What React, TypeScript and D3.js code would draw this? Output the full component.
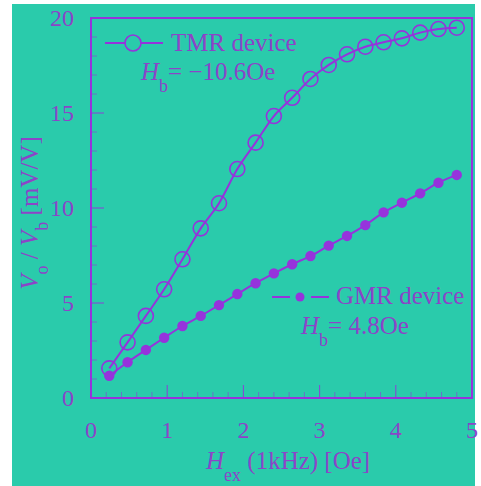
import * as d3 from "d3";
import { useEffect, useRef } from "react";

// field H_ex (Oe) at 1 kHz
const fieldValues = [
  0.24, 0.48, 0.72, 0.96, 1.2, 1.44, 1.68, 1.92, 2.16, 2.4,
  2.64, 2.88, 3.12, 3.36, 3.6, 3.84, 4.08, 4.32, 4.56, 4.8,
];
const tmrValues = [
  1.56, 2.93, 4.32, 5.72, 7.3, 8.93, 10.25, 12.05, 13.44, 14.84,
  15.8, 16.79, 17.53, 18.09, 18.49, 18.72, 18.93, 19.23, 19.42, 19.49,
];
const gmrValues = [
  1.17, 1.88, 2.53, 3.17, 3.79, 4.32, 4.89, 5.47, 6.04, 6.56,
  7.04, 7.47, 8.02, 8.53, 9.1, 9.77, 10.28, 10.77, 11.33, 11.74,
];
const xTicks = [0, 1, 2, 3, 4, 5];
const yTicks = [0, 5, 10, 15, 20];

const BG = "#2acbab";
const PURPLE = "#9633dc";
const TEXT = "#8c44c8";
const FONT = "'Liberation Serif', 'DejaVu Serif', serif";

const Chart = () => {
  const ref = useRef<SVGSVGElement>(null);

  useEffect(() => {
    const svg = d3.select(ref.current);
    svg.selectAll("*").remove();

    const margin = { top: 18, right: 9, bottom: 88, left: 91 };
    const W = 481;
    const H = 486;

    const x = d3.scaleLinear().domain([0, 5]).range([margin.left, W - margin.right]);
    const y = d3.scaleLinear().domain([0, 20]).range([H - margin.bottom, margin.top]);

    svg.append("rect").attr("width", W).attr("height", H).attr("fill", "#fff");
    svg.append("rect").attr("x", 12).attr("y", 4).attr("width", 463).attr("height", H - 4).attr("fill", BG);

    const g = svg.append("g").attr("font-family", FONT).attr("fill", TEXT);

    // minor + major ticks, drawn inward
    const isInt = (d: number) => Math.abs(d - Math.round(d)) < 1e-6;
    g.selectAll(".xminor")
      .data(d3.range(0, 5.001, 0.2))
      .join("line")
      .attr("x1", (d) => x(d))
      .attr("x2", (d) => x(d))
      .attr("y1", y(0))
      .attr("y2", (d) => y(0) - (isInt(d) ? 13 : 6))
      .attr("stroke", PURPLE)
      .attr("stroke-width", 1)
      .attr("opacity", (d) => (isInt(d) ? 0.9 : 0.55));

    g.selectAll(".yminor")
      .data(d3.range(0, 20.001, 1))
      .join("line")
      .attr("y1", (d) => y(d))
      .attr("y2", (d) => y(d))
      .attr("x1", x(0))
      .attr("x2", (d) => x(0) + (d % 5 === 0 ? 13 : 6))
      .attr("stroke", PURPLE)
      .attr("stroke-width", 1)
      .attr("opacity", (d) => (d % 5 === 0 ? 0.9 : 0.55));

    // frame
    g.append("rect")
      .attr("x", x(0))
      .attr("y", y(20))
      .attr("width", x(5) - x(0))
      .attr("height", y(0) - y(20))
      .attr("fill", "none")
      .attr("stroke", PURPLE)
      .attr("stroke-width", 2);

    // tick labels
    g.selectAll(".xlab")
      .data(xTicks)
      .join("text")
      .attr("x", (d) => x(d))
      .attr("y", 438)
      .attr("text-anchor", "middle")
      .attr("font-size", 24)
      .text((d) => d);

    g.selectAll(".ylab")
      .data(yTicks)
      .join("text")
      .attr("x", 74)
      .attr("y", (d) => y(d) + 8)
      .attr("text-anchor", "end")
      .attr("font-size", 24)
      .text((d) => d);

    // curves
    const tmr = fieldValues.map((f, i) => [f, tmrValues[i]] as [number, number]);
    const gmr = fieldValues.map((f, i) => [f, gmrValues[i]] as [number, number]);
    const line = d3
      .line<[number, number]>()
      .x((d) => x(d[0]))
      .y((d) => y(d[1]))
      .curve(d3.curveMonotoneX);

    g.append("path")
      .attr("d", line(tmr))
      .attr("fill", "none")
      .attr("stroke", PURPLE)
      .attr("stroke-width", 2);
    g.append("path")
      .attr("d", line(gmr))
      .attr("fill", "none")
      .attr("stroke", PURPLE)
      .attr("stroke-width", 2);

    g.selectAll(".tmr")
      .data(tmr)
      .join("circle")
      .attr("cx", (d) => x(d[0]))
      .attr("cy", (d) => y(d[1]))
      .attr("r", 7.5)
      .attr("fill", "none")
      .attr("stroke", PURPLE)
      .attr("stroke-width", 1.6);

    g.selectAll(".gmr")
      .data(gmr)
      .join("circle")
      .attr("cx", (d) => x(d[0]))
      .attr("cy", (d) => y(d[1]))
      .attr("r", 5.2)
      .attr("fill", PURPLE);

    // legend: TMR
    g.append("line")
      .attr("x1", 105).attr("x2", 163).attr("y1", 43).attr("y2", 43)
      .attr("stroke", PURPLE).attr("stroke-width", 2);
    g.append("circle")
      .attr("cx", 133).attr("cy", 43).attr("r", 8)
      .attr("fill", BG).attr("stroke", PURPLE).attr("stroke-width", 1.6);
    g.append("text").attr("x", 171).attr("y", 51).attr("font-size", 25).text("TMR device");
    const t1 = g.append("text").attr("x", 141).attr("y", 80).attr("font-size", 25);
    t1.append("tspan").attr("font-style", "italic").text("H");
    t1.append("tspan").attr("dy", 12).attr("font-size", 18).text("b");
    t1.append("tspan").attr("dy", -12).text("= \u221210.6Oe");

    // legend: GMR
    g.append("line")
      .attr("x1", 272).attr("x2", 290).attr("y1", 297).attr("y2", 297)
      .attr("stroke", PURPLE).attr("stroke-width", 2);
    g.append("line")
      .attr("x1", 311).attr("x2", 329).attr("y1", 297).attr("y2", 297)
      .attr("stroke", PURPLE).attr("stroke-width", 2);
    g.append("circle").attr("cx", 300).attr("cy", 297).attr("r", 4.5).attr("fill", PURPLE);
    g.append("text").attr("x", 336).attr("y", 304).attr("font-size", 25).text("GMR device");
    const t2 = g.append("text").attr("x", 301).attr("y", 334).attr("font-size", 25);
    t2.append("tspan").attr("font-style", "italic").text("H");
    t2.append("tspan").attr("dy", 12).attr("font-size", 18).text("b");
    t2.append("tspan").attr("dy", -12).text("= 4.8Oe");

    // axis titles
    const xt = g.append("text").attr("x", 206).attr("y", 469).attr("font-size", 25);
    xt.append("tspan").attr("font-style", "italic").text("H");
    xt.append("tspan").attr("dy", 12).attr("font-size", 18).text("ex");
    xt.append("tspan").attr("dy", -12).text(" (1kHz) [Oe]");

    const yt = g
      .append("text")
      .attr("transform", "translate(38,213) rotate(-90)")
      .attr("text-anchor", "middle")
      .attr("font-size", 25);
    yt.append("tspan").attr("font-style", "italic").text("V");
    yt.append("tspan").attr("dy", 10).attr("font-size", 18).text("o");
    yt.append("tspan").attr("dy", -10).text(" / ");
    yt.append("tspan").attr("font-style", "italic").text("V");
    yt.append("tspan").attr("dy", 10).attr("font-size", 18).text("b");
    yt.append("tspan").attr("dy", -10).text(" [mV/V]");
  }, []);

  return <svg ref={ref} width={481} height={486} style={{ display: "block" }} />;
};

export default function App() {
  return (
    <div style={{ position: "absolute", left: 0, top: 0 }}>
      <Chart />
    </div>
  );
}
